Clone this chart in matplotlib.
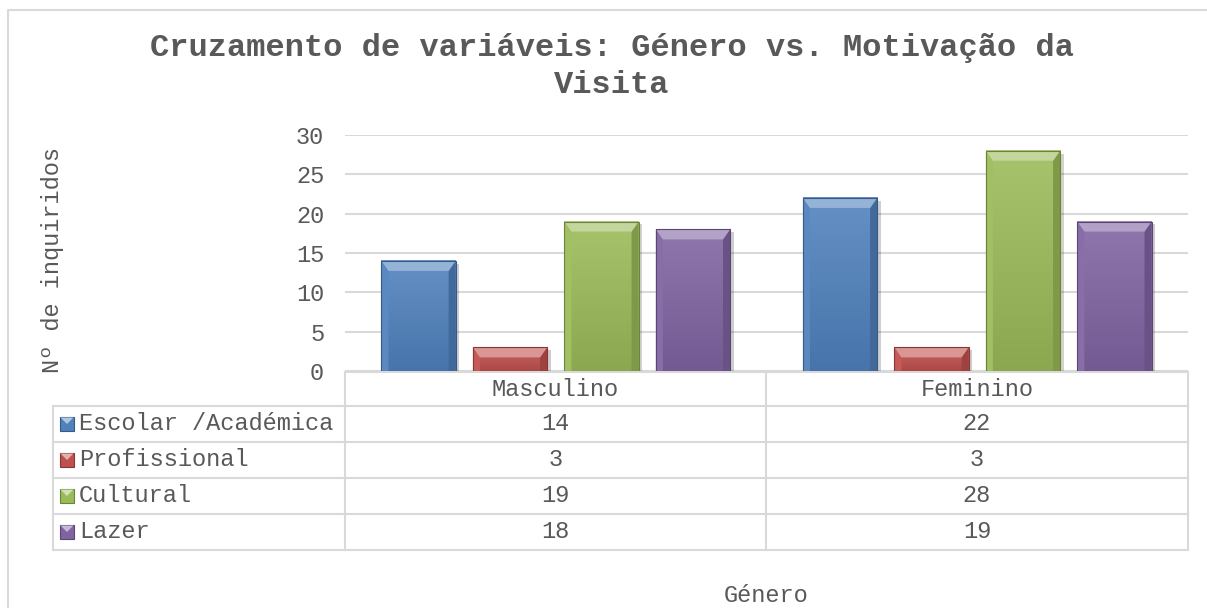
import matplotlib
matplotlib.use("Agg")
import matplotlib.pyplot as plt
import numpy as np
from matplotlib.colors import to_rgb, LinearSegmentedColormap
from matplotlib.patches import Polygon, Rectangle
import matplotlib.patheffects as pe

# dados do inquérito
generos = ["Masculino", "Feminino"]
motivos = ["Escolar /Académica", "Profissional", "Cultural", "Lazer"]
escolar = [14, 22]
profissional = [3, 3]
cultural = [19, 28]
lazer = [18, 19]
valores = [escolar, profissional, cultural, lazer]
cores = ["#4F81BD", "#C0504D", "#9BBB59", "#8064A2"]

titulo = ["Cruzamento de variáveis: Género vs. Motivação da", "Visita"]
eixo_y = "Nº de inquiridos"
eixo_x = "Género"
yticks = [0, 5, 10, 15, 20, 25, 30]

W, H = 1207, 608
FONTE = "Liberation Mono"
CINZA = "#595959"
LINHA = "#D9D9D9"
TAM = 17
plt.rcParams["font.family"] = [FONTE, "DejaVu Sans Mono", "DejaVu Sans"]


def mistura(c, alvo, t):
    c = np.array(to_rgb(c))
    return tuple(c + (np.array(to_rgb(alvo)) - c) * t)


fig = plt.figure(figsize=(W / 100, H / 100), dpi=100)
fig.patch.set_facecolor("white")

# área do gráfico (em píxeis: x 345..1188, y 135..371)
px0, px1, py0, py1 = 345, 1188, 135, 371
ax = fig.add_axes([px0 / W, 1 - py1 / H, (px1 - px0) / W, (py1 - py0) / H], zorder=2)
ax.patch.set_visible(False)

# camada auxiliar em coordenadas de píxel para tabela e textos
ov = fig.add_axes([0, 0, 1, 1], zorder=1)
ov.set_xlim(0, W)
ov.set_ylim(H, 0)
ov.axis("off")

n = len(motivos)
passo = 0.217
largura = 0.176
desloc = (np.arange(n) - (n - 1) / 2) * passo
x = np.arange(len(generos))

# tamanho do bisel em unidades de dados
bx = 7 * 2.0 / (px1 - px0)
by = 10 * 30.0 / (py1 - py0)

gradiente = np.linspace(0, 1, 64).reshape(-1, 1)
for i, (vals, cor) in enumerate(zip(valores, cores)):
    barras = ax.bar(x + desloc[i], vals, width=largura, color=cor, zorder=2,
                    path_effects=[pe.SimplePatchShadow(offset=(2.5, -2), alpha=0.22),
                                  pe.Normal()])
    cmap = LinearSegmentedColormap.from_list(
        "f%d" % i, [mistura(cor, "black", 0.1), mistura(cor, "white", 0.12)])
    for r in barras:
        x0, y0 = r.get_x(), r.get_y()
        x1, y1 = x0 + r.get_width(), y0 + r.get_height()
        ax.imshow(gradiente, extent=(x0, x1, y0, y1), origin="lower", cmap=cmap,
                  aspect="auto", zorder=2.5, interpolation="bilinear")
        topo = Polygon([(x0, y1), (x1, y1), (x1 - bx, y1 - by), (x0 + bx, y1 - by)],
                       closed=True, facecolor=mistura(cor, "white", 0.4), lw=0, zorder=3)
        esq = Polygon([(x0, y0), (x0, y1), (x0 + bx, y1 - by), (x0 + bx, y0)],
                      closed=True, facecolor=mistura(cor, "white", 0.06), lw=0, zorder=3)
        dir_ = Polygon([(x1, y0), (x1, y1), (x1 - bx, y1 - by), (x1 - bx, y0)],
                       closed=True, facecolor=mistura(cor, "black", 0.18), lw=0, zorder=3)
        for p in (esq, dir_, topo):
            ax.add_patch(p)
        ax.add_patch(Rectangle((x0, y0), r.get_width(), r.get_height(), fill=False,
                               edgecolor=mistura(cor, "black", 0.3), lw=0.8, zorder=3.5))

ax.set_xlim(-0.5, len(generos) - 0.5)
ax.set_ylim(0, 30)
ax.set_yticks(yticks)
ax.set_xticks([])
ax.tick_params(axis="y", length=0, pad=15, labelsize=TAM, labelcolor=CINZA)
for s in ax.spines.values():
    s.set_visible(False)
ax.set_axisbelow(True)
ax.yaxis.grid(True, color=LINHA, lw=1.5)

# moldura do gráfico
ov.plot([8, 8, W], [H, 10, 10], color=LINHA, lw=1.5)

# título
ov.text(612, 48, titulo[0], ha="center", va="center", fontsize=23,
        fontweight="bold", color=CINZA)
ov.text(612, 85, titulo[1], ha="center", va="center", fontsize=23,
        fontweight="bold", color=CINZA)

# rótulo do eixo y
ov.text(53, 260, eixo_y, rotation=90, ha="center", va="center",
        fontsize=TAM, color=CINZA)

# tabela de dados
linhas_y = [372, 406, 442, 478, 514, 550]
col_x = [345, 766, 1188]
tab_x0 = 53
ov.plot([col_x[0], col_x[-1]], [linhas_y[0]] * 2, color=LINHA, lw=1.5)
for yy in linhas_y[1:]:
    ov.plot([tab_x0, col_x[-1]], [yy, yy], color=LINHA, lw=1.5)
for xx in col_x:
    ov.plot([xx, xx], [linhas_y[0], linhas_y[-1]], color=LINHA, lw=1.5)
ov.plot([tab_x0, tab_x0], [linhas_y[1], linhas_y[-1]], color=LINHA, lw=1.5)

for j, g in enumerate(generos):
    cx = (col_x[j] + col_x[j + 1]) / 2
    ov.text(cx, (linhas_y[0] + linhas_y[1]) / 2, g, ha="center", va="center",
            fontsize=TAM, color=CINZA)

for i, (nome, vals, cor) in enumerate(zip(motivos, valores, cores)):
    cy = (linhas_y[i + 1] + linhas_y[i + 2]) / 2
    # marcador da série
    ov.add_patch(Rectangle((60, cy - 7), 14, 14, facecolor=cor,
                           edgecolor=mistura(cor, "black", 0.3), lw=0.8))
    ov.add_patch(Polygon([(60.5, cy - 6.5), (73.5, cy - 6.5), (67, cy)], closed=True,
                         facecolor=mistura(cor, "white", 0.55), lw=0))
    ov.text(79, cy, nome, ha="left", va="center", fontsize=TAM, color=CINZA)
    for j, v in enumerate(vals):
        cx = (col_x[j] + col_x[j + 1]) / 2
        ov.text(cx, cy, str(v), ha="center", va="center", fontsize=TAM, color=CINZA)

# título do eixo x
ov.text(766, 596, eixo_x, ha="center", va="center", fontsize=TAM, color=CINZA)

fig.savefig("out.png", dpi=100)
